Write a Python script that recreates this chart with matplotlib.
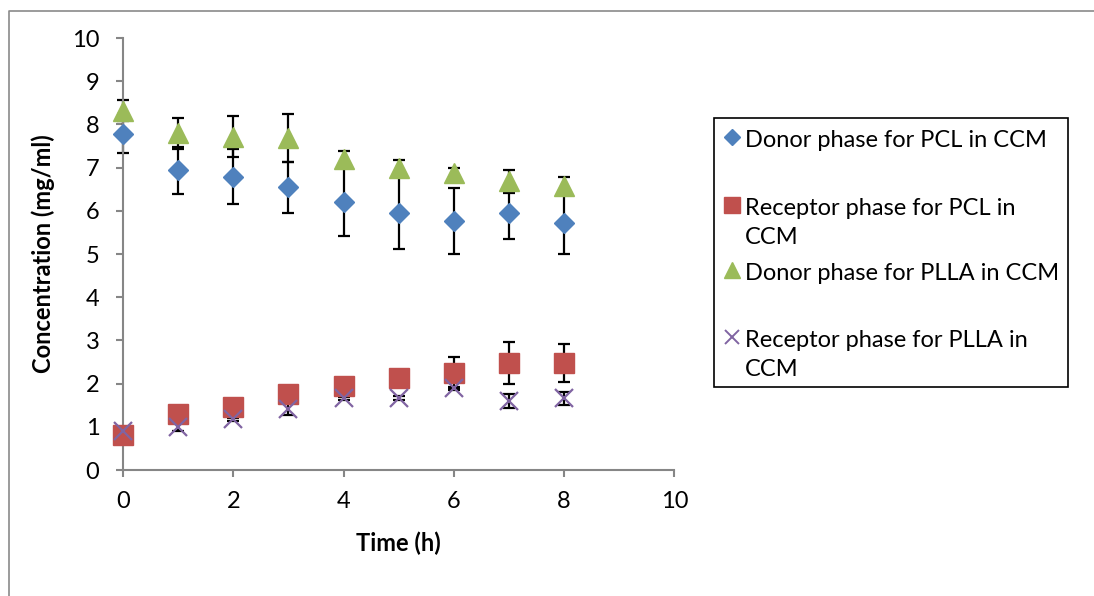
import matplotlib.pyplot as plt
from matplotlib.lines import Line2D
from matplotlib.patches import Rectangle

plt.rcParams["font.family"] = ["Lato", "DejaVu Sans"]

time_h = [0, 1, 2, 3, 4, 5, 6, 7, 8]

donor_pcl = [7.78, 6.94, 6.79, 6.54, 6.20, 5.95, 5.77, 5.96, 5.72]
donor_pcl_err = [0.45, 0.54, 0.64, 0.58, 0.78, 0.83, 0.76, 0.62, 0.71]

receptor_pcl = [0.81, 1.29, 1.47, 1.76, 1.94, 2.12, 2.25, 2.48, 2.48]
receptor_pcl_err = [0.05, 0.10, 0.10, 0.10, 0.10, 0.10, 0.36, 0.48, 0.44]

donor_plla = [8.32, 7.80, 7.72, 7.68, 7.21, 7.00, 6.88, 6.68, 6.58]
donor_plla_err = [0.25, 0.36, 0.47, 0.55, 0.17, 0.18, 0.10, 0.27, 0.20]

receptor_plla = [0.91, 1.00, 1.17, 1.41, 1.66, 1.67, 1.89, 1.60, 1.66]
receptor_plla_err = [0.05, 0.10, 0.03, 0.13, 0.03, 0.05, 0.03, 0.17, 0.15]

labels = [
    "Donor phase for PCL in CCM",
    "Receptor phase for PCL in\nCCM",
    "Donor phase for PLLA in CCM",
    "Receptor phase for PLLA in\nCCM",
]
colors = ["#4F81BD", "#C0504D", "#9BBB59", "#8064A2"]
markers = ["D", "s", "^", "x"]
sizes = [10, 14, 14, 13]

FS = 17

fig = plt.figure(figsize=(10.94, 5.96), dpi=100)
ax = fig.add_axes([0.1124, 0.2114, 0.504, 0.7248])

series = [
    (donor_pcl, donor_pcl_err),
    (receptor_pcl, receptor_pcl_err),
    (donor_plla, donor_plla_err),
    (receptor_plla, receptor_plla_err),
]

# error bars first, markers on top
for vals, err in series:
    eb = ax.errorbar(time_h, vals, yerr=err, fmt="none", ecolor="black",
                     elinewidth=1.6, capsize=4.5, capthick=1.6, zorder=2)
    for art in eb.lines[1] + eb.lines[2]:
        art.set_clip_on(False)

for (vals, err), c, m, s in zip(series, colors, markers, sizes):
    if m == "x":
        ax.plot(time_h, vals, linestyle="none", marker=m, markersize=s,
                markeredgecolor=c, markeredgewidth=1.6, zorder=3, clip_on=False)
    else:
        ax.plot(time_h, vals, linestyle="none", marker=m, markersize=s,
                color=c, markeredgecolor=c, zorder=3, clip_on=False)

ax.set_xlim(0, 10)
ax.set_ylim(0, 10)
ax.set_xticks(range(0, 11, 2))
ax.set_yticks(range(0, 11))
for side in ["top", "right"]:
    ax.spines[side].set_visible(False)
for side in ["left", "bottom"]:
    ax.spines[side].set_color("#868686")
    ax.spines[side].set_linewidth(1.5)
ax.tick_params(axis="y", length=5, width=1.5, color="#868686", labelsize=FS, pad=12)
ax.tick_params(axis="x", length=5, width=1.5, color="#868686", labelsize=FS, pad=10)
ax.set_xlabel("Time (h)", fontsize=FS, fontweight="bold", labelpad=14)
ax.set_ylabel("Concentration (mg/ml)", fontsize=FS, fontweight="bold", labelpad=12)

# legend drawn by hand to keep Excel-like spacing
fig.patches.append(Rectangle((714 / 1094, 1 - 387 / 596), 354 / 1094, 269 / 596,
                             transform=fig.transFigure, fill=False,
                             edgecolor="black", linewidth=1.2))
rows_y = [137, 205, 270, 337]
for lab, c, m, s, yy in zip(labels, colors, markers, sizes, rows_y):
    fy = 1 - yy / 596
    if m == "x":
        h = Line2D([732 / 1094], [fy], marker=m, markersize=s * 0.8,
                   markeredgecolor=c, markeredgewidth=1.4, linestyle="none",
                   transform=fig.transFigure)
    else:
        h = Line2D([732 / 1094], [fy], marker=m, markersize=s * 0.8, color=c,
                   linestyle="none", transform=fig.transFigure)
    fig.lines.append(h)
    fig.text(745 / 1094, 1 - (yy - 7) / 596, lab, fontsize=FS, va="top",
             ha="left", linespacing=1.45, transform=fig.transFigure)

# outer chart border (top and left visible)
fig.lines.append(Line2D([9 / 1094, 9 / 1094, 1.0], [0, 1 - 11 / 596, 1 - 11 / 596],
                        transform=fig.transFigure, color="#8a8a8a", linewidth=1.2))

fig.savefig("out.png", dpi=100)
